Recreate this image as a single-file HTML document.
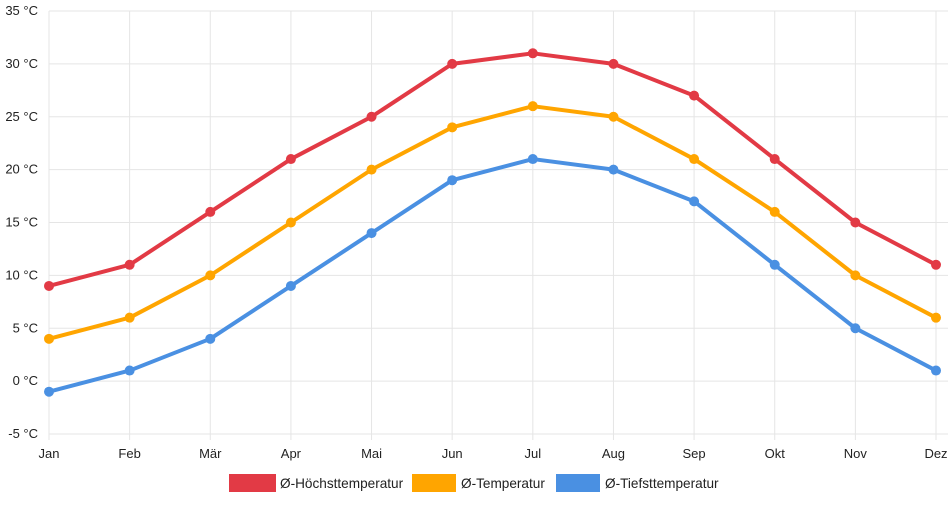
<!DOCTYPE html>
<html><head><meta charset="utf-8"><style>
body{margin:0;background:#fff;font-family:"Liberation Sans",sans-serif}
svg text{font-family:"Liberation Sans",sans-serif;font-size:13px;fill:#222}
svg text.lg{font-size:13.6px}
</style></head><body>
<svg id="chart" width="952" height="500" xmlns="http://www.w3.org/2000/svg">
<g id="grid"></g><g id="series"></g><g id="legend"></g>
</svg>
<script>
const categories=["Jan","Feb","Mär","Apr","Mai","Jun","Jul","Aug","Sep","Okt","Nov","Dez"];
const highValues=[9,11,16,21,25,30,31,30,27,21,15,11];
const meanValues=[4,6,10,15,20,24,26,25,21,16,10,6];
const lowValues=[-1,1,4,9,14,19,21,20,17,11,5,1];
const yTicks=[-5,0,5,10,15,20,25,30,35];
const seriesNames=["Ø-Höchsttemperatur","Ø-Temperatur","Ø-Tiefsttemperatur"];
const NS="http://www.w3.org/2000/svg";
const x0=49,x1=936,yTop=11,yBot=434,vMin=-5,vMax=35;
const xs=i=>x0+(x1-x0)*i/(categories.length-1);
const ys=v=>yBot-(v-vMin)/(vMax-vMin)*(yBot-yTop);
function mk(t,a,p){const e=document.createElementNS(NS,t);for(const k in a)e.setAttribute(k,a[k]);p.appendChild(e);return e;}
const grid=document.getElementById('grid');
yTicks.forEach(v=>{
  const l=mk('line',{x1:x0,x2:x1+12,y1:ys(v),y2:ys(v),stroke:'#e5e5e5'},grid);
  
  
  const t=mk('text',{x:38,y:ys(v)+4,'text-anchor':'end'},grid);t.textContent=v+' °C';
  
  
});
categories.forEach((c,i)=>{
  const l=mk('line',{x1:xs(i),x2:xs(i),y1:yTop,y2:yBot+6,stroke:'#e5e5e5'},grid);
  
  
  const t=mk('text',{x:xs(i),y:458,'text-anchor':'middle'},grid);t.textContent=c;
  
  
});
const sg=document.getElementById('series');
const colors=['#e23a45','#ffa500','#4a90e2'];
[highValues,meanValues,lowValues].forEach((arr,si)=>{
  const p=mk('polyline',{points:arr.map((v,i)=>xs(i)+','+ys(v)).join(' '),fill:'none',stroke:colors[si],'stroke-width':4,'stroke-linejoin':'round'},sg);
  
  
  arr.forEach((v,i)=>{
    const c=mk('circle',{cx:xs(i),cy:ys(v),r:5,fill:colors[si]},sg);
    
    
  });
});
const lg=document.getElementById('legend');
const lx=[229,412,556];
seriesNames.forEach((n,i)=>{
  const r=mk('rect',{x:lx[i],y:474,width:i==0?47:44,height:18,fill:colors[i]},lg);
  
  
  const t=mk('text',{x:lx[i]+(i==0?51:49),y:488,'class':'lg'},lg);t.textContent=n;
  
  
});
</script>
</body></html>
